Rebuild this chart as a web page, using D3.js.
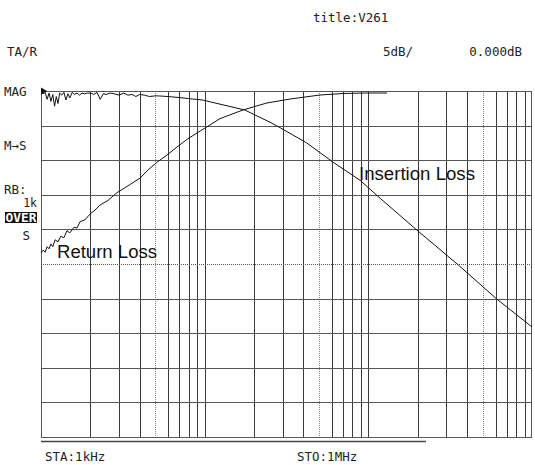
<!DOCTYPE html>
<html>
<head>
<meta charset="utf-8">
<script src="https://cdn.jsdelivr.net/npm/d3@7"></script>
<style>
  html, body { margin: 0; padding: 0; background: #fff; }
  svg { display: block; }
  .mono { font-family: "DejaVu Sans Mono", "Liberation Mono", monospace; font-size: 12.5px; fill: #222; }
  .lab { font-family: "Liberation Sans", Arial, sans-serif; font-size: 18px; fill: #111; }
</style>
</head>
<body>
<script>
// Sweep: 1 kHz .. 1 MHz, 5 dB/div, reference 0 dB at the top line
const freqDomain = [1e3, 1e6];
const dbDomain = [0, -50];
const dbStep = 5;
const gridMultipliers = [1, 2, 3, 4, 5, 6, 7, 8, 9];
const decades = [1e3, 1e4, 1e5];

// Insertion loss trace (frequency in kHz, level in dB)
const insertionFreq = [1.00, 1.03, 1.06, 1.09, 1.12, 1.15, 1.18, 1.21, 1.24, 1.27, 1.30, 1.34, 1.38, 1.42, 1.46,
  1.50, 1.55, 1.60, 1.66, 1.72, 1.78, 1.85, 1.92, 2.00, 2.10, 2.20, 2.30, 2.40, 2.50, 2.65, 2.80, 3.00, 3.20, 3.40,
  3.60, 3.80, 4.00, 4.30, 4.60, 5.00, 5.30, 6.00, 7.00, 8.00, 9.70, 12.4, 17.6, 25.0, 28.9, 42.0, 61.0, 89.0,
  118, 198, 349, 612, 1000];
const insertionDb = [-0.1, -0.4, -0.2, -1.2, -0.3, -1.5, -0.5, -2.2, -0.8, -1.8, -0.3, -0.6, -0.2, -1.3, -0.4,
  -1.0, -0.2, -0.5, -0.3, -0.6, -0.3, -0.4, -0.3, -0.3, -0.5, -0.2, -1.2, -0.4, -0.5, -0.3, -0.4, -0.6, -0.3, -0.6,
  -0.5, -0.8, -0.5, -0.6, -0.8, -0.7, -0.72, -0.8, -0.95, -1.1, -1.3, -1.9, -2.75, -4.5, -5.3, -7.5, -10.3, -12.9,
  -15.5, -20.1, -25.0, -30.1, -34.1];

// Return loss trace (frequency in kHz, level in dB)
const returnFreq = [1.00, 1.03, 1.06, 1.09, 1.12, 1.15, 1.18, 1.22, 1.27, 1.32, 1.38, 1.44, 1.50, 1.59, 1.66,
  1.73, 1.86, 1.99, 2.14, 2.29, 2.57, 2.91, 3.40, 4.02, 4.51, 5.11, 5.89, 6.77, 7.90, 9.37, 12.4, 17.1, 24.0,
  33.3, 50.6, 70.3, 95.6, 130];
const returnDb = [-23.4, -23.0, -23.3, -22.5, -22.8, -22.1, -22.5, -21.5, -21.8, -21.0, -21.2, -20.2, -20.5,
  -19.7, -19.8, -18.9, -18.6, -17.8, -17.2, -16.5, -15.8, -14.7, -13.7, -12.6, -11.4, -10.3, -9.25, -8.1, -6.9,
  -5.8, -4.0, -2.75, -1.73, -1.16, -0.58, -0.36, -0.29, -0.29];

const W = 535, H = 465;
const plot = { left: 41, right: 532, top: 91, bottom: 437 };

const svg = d3.select("body").append("svg").attr("width", W).attr("height", H);

const x = d3.scaleLog().domain(freqDomain).range([plot.left, plot.right]);
const y = d3.scaleLinear().domain(dbDomain).range([plot.top, plot.bottom]);

const grid = svg.append("g").attr("shape-rendering", "crispEdges");

// vertical log grid
const vLines = [];
decades.forEach(d => gridMultipliers.forEach(m => { if (!(d === 1e3 && m === 1)) vLines.push({ f: d * m, m }); }));
grid.selectAll("line.v").data(vLines).join("line")
  .attr("class", "v")
  .attr("x1", d => Math.round(x(d.f)) + 0.5).attr("x2", d => Math.round(x(d.f)) + 0.5)
  .attr("y1", plot.top).attr("y2", plot.bottom)
  .attr("stroke", d => d.m === 5 ? "#888" : "#3a3a3a")
  .attr("stroke-width", 1)
  .attr("stroke-dasharray", d => d.m === 5 ? "1,1" : null);

// horizontal grid, 5 dB per division
const hLevels = d3.range(dbDomain[0] - dbStep, dbDomain[1], -dbStep);
grid.selectAll("line.h").data(hLevels).join("line")
  .attr("class", "h")
  .attr("x1", plot.left).attr("x2", plot.right)
  .attr("y1", d => Math.round(y(d)) + 0.5).attr("y2", d => Math.round(y(d)) + 0.5)
  .attr("stroke", "#555")
  .attr("stroke-width", d => d === -25 ? 1 : 1.5)
  .attr("stroke-dasharray", d => d === -25 ? "1,1" : null);

// frame
grid.append("rect")
  .attr("x", plot.left + 0.5).attr("y", plot.top + 0.5)
  .attr("width", plot.right - plot.left - 1).attr("height", plot.bottom - plot.top)
  .attr("fill", "none").attr("stroke", "#555").attr("stroke-width", 1.5);

// sweep span indicator under the grid
svg.append("line")
  .attr("x1", plot.left).attr("x2", 426)
  .attr("y1", plot.bottom + 4.5).attr("y2", plot.bottom + 4.5)
  .attr("stroke", "#444").attr("stroke-width", 1.5);

// traces
const line = d3.line().x(d => x(d[0] * 1e3)).y(d => y(d[1]));
svg.append("path")
  .datum(insertionFreq.map((f, i) => [f, insertionDb[i]]))
  .attr("d", line).attr("fill", "none").attr("stroke", "#111").attr("stroke-width", 1);
svg.append("path")
  .datum(returnFreq.map((f, i) => [f, returnDb[i]]))
  .attr("d", line).attr("fill", "none").attr("stroke", "#111").attr("stroke-width", 1);

// reference marker
svg.append("path")
  .attr("d", `M${plot.left},${y(0) - 3.5}L${plot.left + 6},${y(0)}L${plot.left},${y(0) + 3.5}Z`)
  .attr("fill", "#111");

// instrument annotations
const mono = (tx, ty, s, anchor) => svg.append("text").attr("class", "mono")
  .attr("x", tx).attr("y", ty).attr("text-anchor", anchor || "start").text(s);
mono(313, 22, "title:V261");
mono(7, 56, "TA/R");
mono(383, 56, "5dB/");
mono(522, 56, "0.000dB", "end");
mono(4, 96, "MAG");
mono(4, 150, "M→S");
mono(4, 194, "RB:");
svg.append("text").attr("class", "mono").attr("x", 37).attr("y", 207)
  .attr("text-anchor", "end").style("font-size", "11.5px").text("1k");
svg.append("rect").attr("x", 5).attr("y", 212).attr("width", 32).attr("height", 11).attr("fill", "#111");
svg.append("text").attr("class", "mono").attr("x", 5.5).attr("y", 222)
  .attr("textLength", 31).attr("lengthAdjust", "spacingAndGlyphs")
  .style("fill", "#fff").style("font-weight", "bold").style("font-size", "11.5px").text("OVER");
mono(30, 240, "S", "end");
mono(45, 461, "STA:1kHz");
mono(297, 461, "STO:1MHz");

// trace labels
svg.append("text").attr("class", "lab").attr("x", 57).attr("y", 258)
  .attr("textLength", 100).attr("lengthAdjust", "spacingAndGlyphs").text("Return Loss");
svg.append("text").attr("class", "lab").attr("x", 359).attr("y", 180)
  .attr("textLength", 116).attr("lengthAdjust", "spacingAndGlyphs").text("Insertion Loss");
</script>
</body>
</html>
